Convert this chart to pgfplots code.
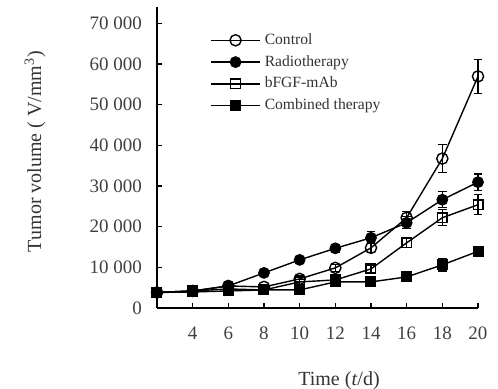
\documentclass[border=0pt]{standalone}
\usepackage{fontspec}
\setmainfont{Liberation Serif}
\usepackage{pgfplots}
\pgfplotsset{compat=1.18}
\usepackage{pgfplotstable}
\pgfplotstableread{
day ctl ctlE rad radE bf bfE cmb cmbE
2 3820 300 3820 300 3820 300 3820 300
4 4190 300 4190 300 4190 300 3940 300
6 5420 500 5420 500 4680 400 4190 400
8 5180 500 8630 700 4440 400 4440 400
10 7150 700 11830 800 6410 600 4440 500
12 9860 900 14670 900 6900 700 6410 600
14 14790 1200 17260 1500 9610 900 6410 900
16 22190 1500 20950 1500 16020 1200 7640 800
18 36730 3500 26620 2000 22190 2000 10600 1500
20 56940 4200 30940 2000 25390 2500 13930 1200
}\data
\begin{document}
\begin{tikzpicture}
\begin{axis}[name=ax, at={(0,0)}, anchor=south west,
 scale only axis, width=160.5pt, height=150.5pt,
 xmin=2, xmax=20, ymin=0, ymax=74000,
 axis lines=left, axis line style={-, line width=0.7pt},
 xtick={4,6,...,20}, ytick={0,10000,...,70000},
 tick align=inside, major tick length=2.5pt, tick style={black, line width=0.6pt},
 /pgf/number format/assume math mode=true,
 /pgf/number format/1000 sep={\ },
 scaled y ticks=false,
 ticklabel style={font=\fontsize{9.5}{11}\selectfont, text=black!75},
 xticklabel style={yshift=-6pt},
 yticklabel style={xshift=-4pt},
 xlabel={Time (\textit{t}/d)},
 ylabel={Tumor volume ( V/mm\textsuperscript{3})},
 label style={font=\fontsize{10}{12}\selectfont, text=black!80},
 xlabel style={at={(axis description cs:0.567,-0.243)}, anchor=center},
 ylabel style={at={(axis description cs:-0.38,0.52)}, anchor=center},
 clip=false,
 error bars/error bar style={line width=0.6pt, black},
 error bars/error mark options={rotate=90, mark size=2.2pt, line width=0.6pt, black},
 legend cell align=left,
 legend style={draw=none, fill=none, inner sep=0pt, at={(0.165,0.927)}, anchor=north west,
   font=\fontsize{7.8}{9}\selectfont, row sep=0pt, text=black!80},
 legend image code/.code={\draw[mark repeat=2,mark phase=2] plot coordinates {(0pt,0pt) (12.25pt,0pt) (24.5pt,0pt)};},
]
\addplot[black, line width=0.7pt, mark=o, mark size=2.8pt, mark options={solid, black, line width=0.7pt},
  error bars/.cd, y dir=both, y explicit] table[x=day, y=ctl, y error=ctlE] {\data};
\addlegendentry{Control}
\addplot[black, line width=0.7pt, mark=*, mark size=2.6pt, mark options={solid, black, fill=black},
  error bars/.cd, y dir=both, y explicit] table[x=day, y=rad, y error=radE] {\data};
\addlegendentry{Radiotherapy}
\addplot[black, line width=0.7pt, mark=square, mark size=2.4pt, mark options={solid, black, line width=0.7pt},
  error bars/.cd, y dir=both, y explicit] table[x=day, y=bf, y error=bfE] {\data};
\addlegendentry{bFGF-mAb}
\addplot[black, line width=0.7pt, mark=square*, mark size=2.4pt, mark options={solid, black, fill=black},
  error bars/.cd, y dir=both, y explicit] table[x=day, y=cmb, y error=cmbE] {\data};
\addlegendentry{Combined therapy}
\end{axis}
\pgfresetboundingbox
\path[use as bounding box] (ax.south west) ++(-78.5pt,-40.5pt) rectangle ++(249pt,194.5pt);
\end{tikzpicture}
\end{document}
